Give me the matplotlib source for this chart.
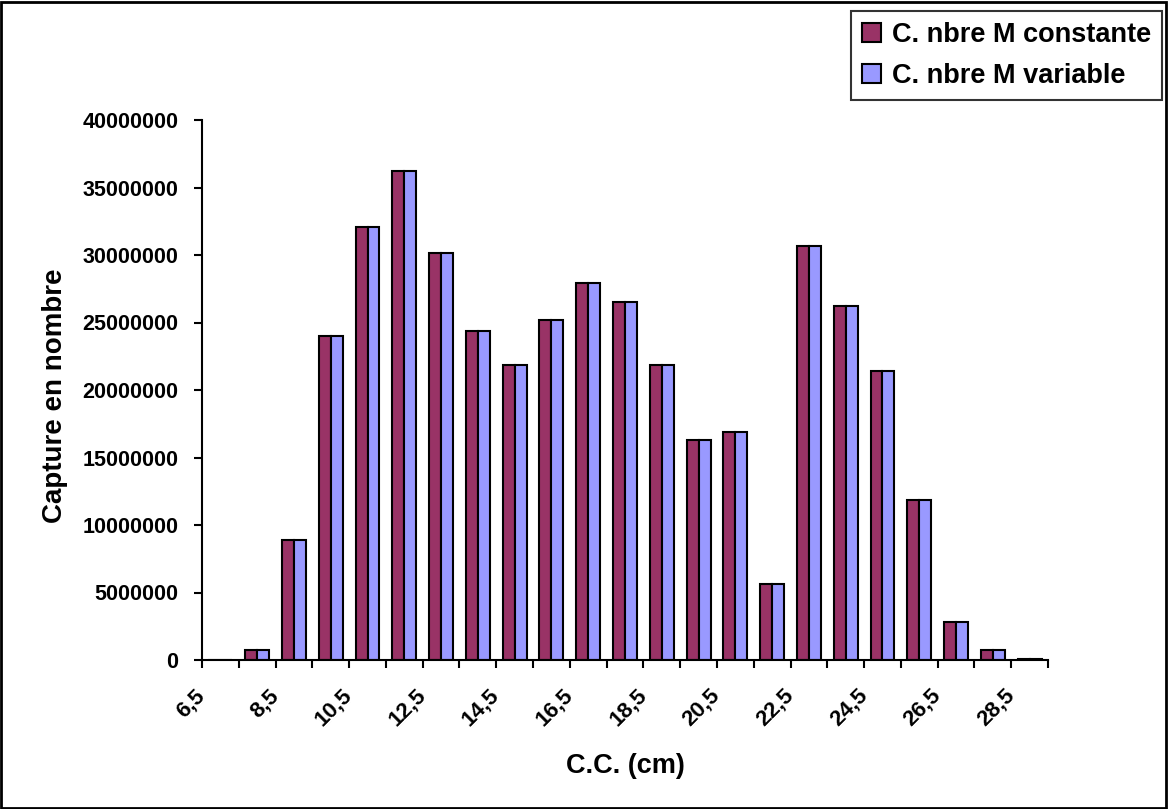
import numpy as np
import matplotlib
matplotlib.use("Agg")
import matplotlib.pyplot as plt
from matplotlib.patches import Rectangle
from matplotlib.transforms import ScaledTranslation

plt.rcParams['font.family'] = ['Liberation Sans', 'DejaVu Sans']
plt.rcParams['font.weight'] = 'bold'

# classes de taille (C.C. en cm)
classes = ["6,5", "7,5", "8,5", "9,5", "10,5", "11,5", "12,5", "13,5", "14,5",
           "15,5", "16,5", "17,5", "18,5", "19,5", "20,5", "21,5", "22,5",
           "23,5", "24,5", "25,5", "26,5", "27,5", "28,5"]

m_constante = [0, 0.72e6, 8.9e6, 24.0e6, 32.05e6, 36.2e6, 30.15e6, 24.4e6,
               21.85e6, 25.2e6, 27.9e6, 26.5e6, 21.85e6, 16.3e6, 16.9e6,
               5.65e6, 30.65e6, 26.2e6, 21.4e6, 11.85e6, 2.8e6, 0.72e6, 0.08e6]
m_variable = [0, 0.72e6, 8.9e6, 24.0e6, 32.05e6, 36.2e6, 30.15e6, 24.4e6,
              21.85e6, 25.2e6, 27.9e6, 26.5e6, 21.85e6, 16.3e6, 16.9e6,
              5.65e6, 30.65e6, 26.2e6, 21.4e6, 11.85e6, 2.8e6, 0.72e6, 0.08e6]

fig = plt.figure(figsize=(11.68, 8.09), dpi=100)
ax = fig.add_axes([202/1168, 149/809, 846/1168, 540/809])

x = np.arange(len(classes))
w = 0.325
ax.bar(x - w/2, m_constante, w, color="#993366", edgecolor="black",
       linewidth=1.5, label="C. nbre M constante")
ax.bar(x + w/2, m_variable, w, color="#9999FF", edgecolor="black",
       linewidth=1.5, label="C. nbre M variable")

ax.set_xlim(-0.5, len(classes) - 0.5)
ax.set_ylim(0, 40000000)
ax.set_yticks(np.arange(0, 40000001, 5000000))
ax.set_yticklabels([str(v) for v in range(0, 40000001, 5000000)])

ax.set_xticks(x[::2])
ax.set_xticklabels(classes[::2], rotation=45, ha="right", va="top")
ax.set_xticks(np.arange(len(classes) + 1) - 0.5, minor=True)
ax.tick_params(axis="x", which="major", length=0, pad=18, labelsize=16)
ax.tick_params(axis="x", which="minor", length=6, width=1.5, direction="out")
ax.tick_params(axis="y", length=6, width=1.5, pad=11, labelsize=15.5)
offset = ScaledTranslation(-0.11, 0, fig.dpi_scale_trans)
for lab in ax.get_xticklabels():
    lab.set_transform(lab.get_transform() + offset)

for s in ["top", "right"]:
    ax.spines[s].set_visible(False)
for s in ["left", "bottom"]:
    ax.spines[s].set_linewidth(1.5)

ax.set_xlabel("C.C. (cm)", fontsize=19.5, fontweight="bold")
ax.set_ylabel("Capture en nombre", fontsize=20, fontweight="bold")
ax.xaxis.set_label_coords(0.5, -0.172)
ax.yaxis.label.set_va("center")
ax.yaxis.set_label_coords(-0.174, 0.49)

leg = ax.legend(loc="upper right", bbox_to_anchor=(1162/1168, 1 - 11/809),
                bbox_transform=fig.transFigure, fontsize=19.5, frameon=True,
                fancybox=False, borderaxespad=0, handlelength=0.7,
                handleheight=0.7, handletextpad=0.4, borderpad=0.4,
                labelspacing=0.55)
leg.get_frame().set_edgecolor("black")
leg.get_frame().set_linewidth(1.5)
for t in leg.get_texts():
    t.set_fontweight("bold")

# cadre autour du graphique
fig.patches.append(Rectangle((0.001, 0.001), 0.997, 0.997, transform=fig.transFigure,
                             fill=False, edgecolor="black", linewidth=2))

fig.savefig("out.png", dpi=100)
